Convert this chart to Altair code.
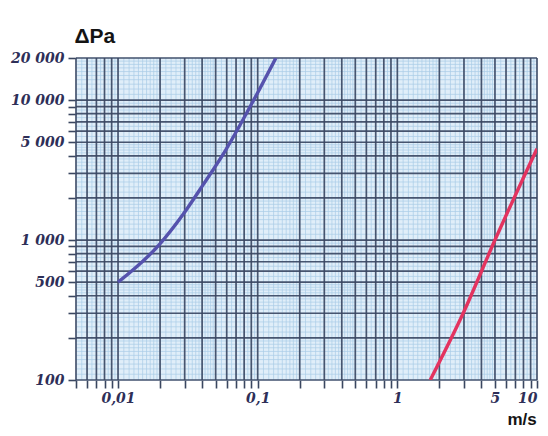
import altair as alt
import pandas as pd

# ---- data ----
blue_v = [0.01, 0.0196, 0.029, 0.0405, 0.059, 0.0936, 0.135]
blue_p = [500, 920, 1510, 2470, 4400, 10000, 20000]

red_v = [1.72, 2.96, 5.0, 10.0]
red_p = [100, 300, 1000, 4500]

x_domain = [0.005, 10]
y_domain = [100, 20000]

x_labels = {0.01: "0,01", 0.1: "0,1", 1: "1", 5: "5", 10: "10"}
y_labels = {20000: "20 000", 10000: "10 000", 5000: "5 000", 1000: "1 000", 500: "500", 100: "100"}

# grid positions (log paper)
def major_grid(lo, hi):
    out = []
    for d in range(-4, 6):
        for m in range(1, 10):
            v = round(m * 10 ** d, 8)
            if lo - 1e-12 <= v <= hi + 1e-12:
                out.append(v)
    return out

def fine_grid(lo, hi):
    out = []
    for d in range(-4, 6):
        base = 10 ** d
        steps = [1 + 0.1 * i for i in range(10)] + [2 + 0.2 * i for i in range(15)] + [5 + 0.5 * i for i in range(10)]
        for s in steps:
            v = round(s * base, 9)
            if lo <= v <= hi:
                out.append(v)
    return out

x_major = major_grid(*x_domain)
y_major = major_grid(*y_domain)
x_fine = fine_grid(*x_domain)
y_fine = fine_grid(*y_domain)

# ---- styling ----
label_color = "#2e2f58"
grid_dark = "#3a4660"
grid_fine = "#a9cbe7"

xscale = alt.Scale(type="log", domain=x_domain, nice=False)
yscale = alt.Scale(type="log", domain=y_domain, nice=False)

def expr_for(mapping):
    parts = []
    for k, v in mapping.items():
        parts.append(f"abs(datum.value - {k}) < {k} * 1e-6 ? '{v}'")
    return " : ".join(parts) + " : ''"

xaxis = alt.Axis(
    values=x_major, grid=False, domain=False,
    tickSize=8, tickColor=grid_dark, tickWidth=1.6,
    labelExpr=expr_for(x_labels), labelOverlap=False, labelFlush=False,
    labelAlign=alt.condition("datum.value >= 9.99", alt.value("right"), alt.value("center")),
    labelFont="DejaVu Serif", labelFontSize=14, labelFontStyle="italic", labelFontWeight="bold",
    labelColor=label_color, labelPadding=3, labelBaseline="top",
    title="m/s", titleFont="Liberation Sans", titleFontSize=17, titleFontWeight="bold",
    titleColor="#141414", titleAlign="left", titleX=431, titleY=44, titleBaseline="alphabetic",
)
yaxis = alt.Axis(
    values=y_major, grid=False, domain=False,
    tickSize=8, tickColor=grid_dark, tickWidth=1.6,
    labelExpr=expr_for(y_labels), labelOverlap=False, labelFlush=False,
    labelFont="DejaVu Serif", labelFontSize=14, labelFontStyle="italic", labelFontWeight="bold",
    labelColor=label_color, labelPadding=4,
    title="ΔPa", titleFont="Liberation Sans", titleFontSize=21, titleFontWeight="bold",
    titleColor="#141414", titleAngle=0, titleAlign="left", titleX=-2, titleY=-16,
    titleBaseline="alphabetic",
)

X = lambda f: alt.X(f, type="quantitative", scale=xscale, axis=xaxis)
Y = lambda f: alt.Y(f, type="quantitative", scale=yscale, axis=yaxis)

fine_x = alt.Chart(pd.DataFrame({"v": x_fine})).mark_rule(color=grid_fine, strokeWidth=0.7).encode(x=X("v"))
fine_y = alt.Chart(pd.DataFrame({"p": y_fine})).mark_rule(color=grid_fine, strokeWidth=0.7).encode(y=Y("p"))
dark_x = alt.Chart(pd.DataFrame({"v": x_major})).mark_rule(color=grid_dark, strokeWidth=1.7, opacity=0.9).encode(x=X("v"))
dark_y = alt.Chart(pd.DataFrame({"p": y_major})).mark_rule(color=grid_dark, strokeWidth=1.7, opacity=0.9).encode(y=Y("p"))

blue = alt.Chart(pd.DataFrame({"v": blue_v, "p": blue_p})).mark_line(
    color="#5552ad", strokeWidth=3.4, interpolate="monotone", clip=True
).encode(x=X("v"), y=Y("p"))
red = alt.Chart(pd.DataFrame({"v": red_v, "p": red_p})).mark_line(
    color="#e3335f", strokeWidth=3.4, interpolate="monotone", clip=True
).encode(x=X("v"), y=Y("p"))

chart = alt.layer(fine_x, fine_y, dark_x, dark_y, blue, red).properties(
    width=461, height=322,
    autosize=alt.AutoSizeParams(type="none"),
    padding={"left": 68, "top": 50, "right": 3, "bottom": 48},
    background="white",
).configure_view(fill="#e0eef9", stroke=None)

chart.save("out.html", embed_options={"renderer": "svg", "actions": False})
